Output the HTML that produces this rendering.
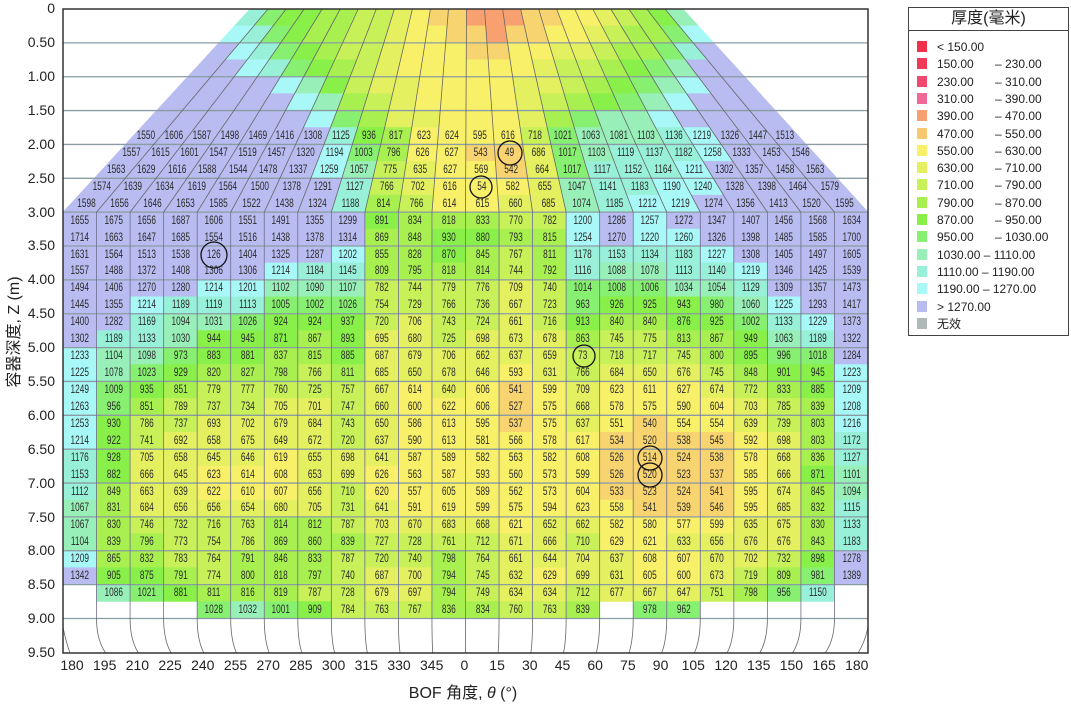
<!DOCTYPE html>
<html><head><meta charset="utf-8"><style>
body{margin:0;background:#fff;}
#c{position:relative;width:1071px;height:715px;overflow:hidden;background:#fff;font-family:"Liberation Sans","Noto Sans CJK SC",sans-serif;}
svg{position:absolute;left:0;top:0;}
.r{position:absolute;left:63px;width:805px;height:14px;line-height:14px;display:flex;font-size:11.5px;color:#2a2a2a;}
.r b{flex:1;text-align:center;font-weight:normal;transform:scaleX(.72);white-space:nowrap;}
.yl{position:absolute;left:0;width:55px;text-align:right;font-size:14px;color:#222;}
.xl{position:absolute;top:657px;width:30px;margin-left:-15px;text-align:center;font-size:14px;color:#222;}
#lg{position:absolute;left:908px;top:7px;width:159px;height:327px;border:1px solid #444;background:#fff;}
#lg .t{height:22px;border-bottom:1px solid #444;text-align:center;font-size:16px;line-height:22px;color:#222;}
#lg .i{position:absolute;left:8px;font-size:12px;height:14px;line-height:14px;color:#222;white-space:nowrap;}
#lg .i s{display:inline-block;width:10px;height:11px;vertical-align:-1px;margin-right:10px;text-decoration:none;}
#lg .i em{font-style:normal;position:absolute;left:78px;}
</style></head><body><div id="c">
<svg id="s" width="1071" height="715"></svg>

<div class="r" data-z="1.75" style="top:129px;left:132.4px;width:666.9px"><b>1550</b><b>1606</b><b>1587</b><b>1498</b><b>1469</b><b>1416</b><b>1308</b><b>1125</b><b>936</b><b>817</b><b>623</b><b>624</b><b>595</b><b>616</b><b>718</b><b>1021</b><b>1063</b><b>1081</b><b>1103</b><b>1136</b><b>1219</b><b>1326</b><b>1447</b><b>1513</b></div>
<div class="r" data-z="2" style="top:145.9px;left:116.8px;width:698px"><b>1557</b><b>1615</b><b>1601</b><b>1547</b><b>1519</b><b>1457</b><b>1320</b><b>1194</b><b>1003</b><b>796</b><b>626</b><b>627</b><b>543</b><b>49</b><b>686</b><b>1017</b><b>1103</b><b>1119</b><b>1137</b><b>1182</b><b>1258</b><b>1333</b><b>1453</b><b>1546</b></div>
<div class="r" data-z="2.25" style="top:162.8px;left:101.1px;width:729.2px"><b>1563</b><b>1629</b><b>1616</b><b>1588</b><b>1544</b><b>1478</b><b>1337</b><b>1259</b><b>1057</b><b>775</b><b>635</b><b>627</b><b>569</b><b>542</b><b>664</b><b>1017</b><b>1117</b><b>1152</b><b>1164</b><b>1211</b><b>1302</b><b>1357</b><b>1458</b><b>1563</b></div>
<div class="r" data-z="2.5" style="top:179.8px;left:85.5px;width:760.3px"><b>1574</b><b>1639</b><b>1634</b><b>1619</b><b>1564</b><b>1500</b><b>1378</b><b>1291</b><b>1127</b><b>766</b><b>702</b><b>616</b><b>54</b><b>582</b><b>655</b><b>1047</b><b>1141</b><b>1183</b><b>1190</b><b>1240</b><b>1328</b><b>1398</b><b>1464</b><b>1579</b></div>
<div class="r" data-z="2.75" style="top:196.7px;left:69.8px;width:791.6px"><b>1598</b><b>1656</b><b>1646</b><b>1653</b><b>1585</b><b>1522</b><b>1438</b><b>1324</b><b>1188</b><b>814</b><b>766</b><b>614</b><b>615</b><b>660</b><b>685</b><b>1074</b><b>1185</b><b>1212</b><b>1219</b><b>1274</b><b>1356</b><b>1413</b><b>1520</b><b>1595</b></div>

<div class="r" data-z="3" style="top:213.6px"><b>1655</b><b>1675</b><b>1656</b><b>1687</b><b>1606</b><b>1551</b><b>1491</b><b>1355</b><b>1299</b><b>891</b><b>834</b><b>818</b><b>833</b><b>770</b><b>782</b><b>1200</b><b>1286</b><b>1257</b><b>1272</b><b>1347</b><b>1407</b><b>1456</b><b>1568</b><b>1634</b></div>
<div class="r" data-z="3.25" style="top:230.5px"><b>1714</b><b>1663</b><b>1647</b><b>1685</b><b>1554</b><b>1516</b><b>1438</b><b>1378</b><b>1314</b><b>869</b><b>848</b><b>930</b><b>880</b><b>793</b><b>815</b><b>1254</b><b>1270</b><b>1220</b><b>1260</b><b>1326</b><b>1398</b><b>1485</b><b>1585</b><b>1700</b></div>
<div class="r" data-z="3.5" style="top:247.5px"><b>1631</b><b>1564</b><b>1513</b><b>1538</b><b>126</b><b>1404</b><b>1325</b><b>1287</b><b>1202</b><b>855</b><b>828</b><b>870</b><b>845</b><b>767</b><b>811</b><b>1178</b><b>1153</b><b>1134</b><b>1183</b><b>1227</b><b>1308</b><b>1405</b><b>1497</b><b>1605</b></div>
<div class="r" data-z="3.75" style="top:264.4px"><b>1557</b><b>1488</b><b>1372</b><b>1408</b><b>1306</b><b>1306</b><b>1214</b><b>1184</b><b>1145</b><b>809</b><b>795</b><b>818</b><b>814</b><b>744</b><b>792</b><b>1116</b><b>1088</b><b>1078</b><b>1113</b><b>1140</b><b>1219</b><b>1346</b><b>1425</b><b>1539</b></div>
<div class="r" data-z="4" style="top:281.3px"><b>1494</b><b>1406</b><b>1270</b><b>1280</b><b>1214</b><b>1201</b><b>1102</b><b>1090</b><b>1107</b><b>782</b><b>744</b><b>779</b><b>776</b><b>709</b><b>740</b><b>1014</b><b>1008</b><b>1006</b><b>1034</b><b>1054</b><b>1129</b><b>1309</b><b>1357</b><b>1473</b></div>
<div class="r" data-z="4.25" style="top:298.3px"><b>1445</b><b>1355</b><b>1214</b><b>1189</b><b>1119</b><b>1113</b><b>1005</b><b>1002</b><b>1026</b><b>754</b><b>729</b><b>766</b><b>736</b><b>667</b><b>723</b><b>963</b><b>926</b><b>925</b><b>943</b><b>980</b><b>1060</b><b>1225</b><b>1293</b><b>1417</b></div>
<div class="r" data-z="4.5" style="top:315.2px"><b>1400</b><b>1282</b><b>1169</b><b>1094</b><b>1031</b><b>1026</b><b>924</b><b>924</b><b>937</b><b>720</b><b>706</b><b>743</b><b>724</b><b>661</b><b>716</b><b>913</b><b>840</b><b>840</b><b>876</b><b>925</b><b>1002</b><b>1133</b><b>1229</b><b>1373</b></div>
<div class="r" data-z="4.75" style="top:332.1px"><b>1302</b><b>1189</b><b>1133</b><b>1030</b><b>944</b><b>945</b><b>871</b><b>867</b><b>893</b><b>695</b><b>680</b><b>725</b><b>698</b><b>673</b><b>678</b><b>863</b><b>745</b><b>775</b><b>813</b><b>867</b><b>949</b><b>1063</b><b>1189</b><b>1322</b></div>
<div class="r" data-z="5" style="top:349px"><b>1233</b><b>1104</b><b>1098</b><b>973</b><b>883</b><b>881</b><b>837</b><b>815</b><b>885</b><b>687</b><b>679</b><b>706</b><b>662</b><b>637</b><b>659</b><b>73</b><b>718</b><b>717</b><b>745</b><b>800</b><b>895</b><b>996</b><b>1018</b><b>1284</b></div>
<div class="r" data-z="5.25" style="top:366px"><b>1225</b><b>1078</b><b>1023</b><b>929</b><b>820</b><b>827</b><b>798</b><b>766</b><b>811</b><b>685</b><b>650</b><b>678</b><b>646</b><b>593</b><b>631</b><b>766</b><b>684</b><b>650</b><b>676</b><b>745</b><b>848</b><b>901</b><b>945</b><b>1223</b></div>
<div class="r" data-z="5.5" style="top:382.9px"><b>1249</b><b>1009</b><b>935</b><b>851</b><b>779</b><b>777</b><b>760</b><b>725</b><b>757</b><b>667</b><b>614</b><b>640</b><b>606</b><b>541</b><b>599</b><b>709</b><b>623</b><b>611</b><b>627</b><b>674</b><b>772</b><b>833</b><b>885</b><b>1209</b></div>
<div class="r" data-z="5.75" style="top:399.8px"><b>1263</b><b>956</b><b>851</b><b>789</b><b>737</b><b>734</b><b>705</b><b>701</b><b>747</b><b>660</b><b>600</b><b>622</b><b>606</b><b>527</b><b>575</b><b>668</b><b>578</b><b>575</b><b>590</b><b>604</b><b>703</b><b>785</b><b>839</b><b>1208</b></div>
<div class="r" data-z="6" style="top:416.8px"><b>1253</b><b>930</b><b>786</b><b>737</b><b>693</b><b>702</b><b>679</b><b>684</b><b>743</b><b>650</b><b>586</b><b>613</b><b>595</b><b>537</b><b>575</b><b>637</b><b>551</b><b>540</b><b>554</b><b>554</b><b>639</b><b>739</b><b>803</b><b>1216</b></div>
<div class="r" data-z="6.25" style="top:433.7px"><b>1214</b><b>922</b><b>741</b><b>692</b><b>658</b><b>675</b><b>649</b><b>672</b><b>720</b><b>637</b><b>590</b><b>613</b><b>581</b><b>566</b><b>578</b><b>617</b><b>534</b><b>520</b><b>538</b><b>545</b><b>592</b><b>698</b><b>803</b><b>1172</b></div>
<div class="r" data-z="6.5" style="top:450.6px"><b>1176</b><b>928</b><b>705</b><b>658</b><b>645</b><b>646</b><b>619</b><b>655</b><b>698</b><b>641</b><b>587</b><b>589</b><b>582</b><b>563</b><b>582</b><b>608</b><b>526</b><b>514</b><b>524</b><b>538</b><b>578</b><b>668</b><b>836</b><b>1127</b></div>
<div class="r" data-z="6.75" style="top:467.6px"><b>1153</b><b>882</b><b>666</b><b>645</b><b>623</b><b>614</b><b>608</b><b>653</b><b>699</b><b>626</b><b>563</b><b>587</b><b>593</b><b>560</b><b>573</b><b>599</b><b>526</b><b>520</b><b>523</b><b>537</b><b>585</b><b>666</b><b>871</b><b>1101</b></div>
<div class="r" data-z="7" style="top:484.5px"><b>1112</b><b>849</b><b>663</b><b>639</b><b>622</b><b>610</b><b>607</b><b>656</b><b>710</b><b>620</b><b>557</b><b>605</b><b>589</b><b>562</b><b>573</b><b>604</b><b>533</b><b>523</b><b>524</b><b>541</b><b>595</b><b>674</b><b>845</b><b>1094</b></div>
<div class="r" data-z="7.25" style="top:501.4px"><b>1067</b><b>831</b><b>684</b><b>656</b><b>656</b><b>654</b><b>680</b><b>705</b><b>731</b><b>641</b><b>591</b><b>619</b><b>599</b><b>575</b><b>594</b><b>623</b><b>558</b><b>541</b><b>539</b><b>546</b><b>595</b><b>685</b><b>832</b><b>1115</b></div>
<div class="r" data-z="7.5" style="top:518.3px"><b>1067</b><b>830</b><b>746</b><b>732</b><b>716</b><b>763</b><b>814</b><b>812</b><b>787</b><b>703</b><b>670</b><b>683</b><b>668</b><b>621</b><b>652</b><b>662</b><b>582</b><b>580</b><b>577</b><b>599</b><b>635</b><b>675</b><b>830</b><b>1133</b></div>
<div class="r" data-z="7.75" style="top:535.3px"><b>1104</b><b>839</b><b>796</b><b>773</b><b>754</b><b>786</b><b>869</b><b>860</b><b>839</b><b>727</b><b>728</b><b>761</b><b>712</b><b>671</b><b>666</b><b>710</b><b>629</b><b>621</b><b>633</b><b>656</b><b>676</b><b>676</b><b>843</b><b>1183</b></div>
<div class="r" data-z="8" style="top:552.2px"><b>1209</b><b>865</b><b>832</b><b>783</b><b>764</b><b>791</b><b>846</b><b>833</b><b>787</b><b>720</b><b>740</b><b>798</b><b>764</b><b>661</b><b>644</b><b>704</b><b>637</b><b>608</b><b>607</b><b>670</b><b>702</b><b>732</b><b>898</b><b>1278</b></div>
<div class="r" data-z="8.25" style="top:569.1px"><b>1342</b><b>905</b><b>875</b><b>791</b><b>774</b><b>800</b><b>818</b><b>797</b><b>740</b><b>687</b><b>700</b><b>794</b><b>745</b><b>632</b><b>629</b><b>699</b><b>631</b><b>605</b><b>600</b><b>673</b><b>719</b><b>809</b><b>981</b><b>1389</b></div>
<div class="r" data-z="8.5" style="top:586.1px"><b></b><b>1086</b><b>1021</b><b>881</b><b>811</b><b>816</b><b>819</b><b>787</b><b>728</b><b>679</b><b>697</b><b>794</b><b>749</b><b>634</b><b>634</b><b>712</b><b>677</b><b>667</b><b>647</b><b>751</b><b>798</b><b>956</b><b>1150</b><b></b></div>
<div class="r" data-z="8.75" style="top:603px"><b></b><b></b><b></b><b></b><b>1028</b><b>1032</b><b>1001</b><b>909</b><b>784</b><b>763</b><b>767</b><b>836</b><b>834</b><b>760</b><b>763</b><b>839</b><b></b><b>978</b><b>962</b><b></b><b></b><b></b><b></b><b></b></div>

<div class="yl" style="top:0px">0</div>
<div class="yl" style="top:34px">0.50</div>
<div class="yl" style="top:68px">1.00</div>
<div class="yl" style="top:102px">1.50</div>
<div class="yl" style="top:136px">2.00</div>
<div class="yl" style="top:170px">2.50</div>
<div class="yl" style="top:204px">3.00</div>
<div class="yl" style="top:237px">3.50</div>
<div class="yl" style="top:271px">4.00</div>
<div class="yl" style="top:305px">4.50</div>
<div class="yl" style="top:339px">5.00</div>
<div class="yl" style="top:373px">5.50</div>
<div class="yl" style="top:407px">6.00</div>
<div class="yl" style="top:441px">6.50</div>
<div class="yl" style="top:475px">7.00</div>
<div class="yl" style="top:509px">7.50</div>
<div class="yl" style="top:542px">8.00</div>
<div class="yl" style="top:576px">8.50</div>
<div class="yl" style="top:610px">9.00</div>
<div class="yl" style="top:644px">9.50</div>

<div class="xl" style="left:72px">180</div><div class="xl" style="left:104.7px">195</div><div class="xl" style="left:137.4px">210</div><div class="xl" style="left:170.1px">225</div><div class="xl" style="left:202.8px">240</div><div class="xl" style="left:235.5px">255</div><div class="xl" style="left:268.2px">270</div><div class="xl" style="left:300.9px">285</div><div class="xl" style="left:333.6px">300</div><div class="xl" style="left:366.3px">315</div><div class="xl" style="left:399px">330</div><div class="xl" style="left:431.7px">345</div><div class="xl" style="left:464.4px">0</div><div class="xl" style="left:497.1px">15</div><div class="xl" style="left:529.8px">30</div><div class="xl" style="left:562.5px">45</div><div class="xl" style="left:595.2px">60</div><div class="xl" style="left:627.9px">75</div><div class="xl" style="left:660.6px">90</div><div class="xl" style="left:693.3px">105</div><div class="xl" style="left:726px">120</div><div class="xl" style="left:758.7px">135</div><div class="xl" style="left:791.4px">150</div><div class="xl" style="left:824.1px">165</div><div class="xl" style="left:856.8px">180</div>

<div style="position:absolute;left:363px;width:200px;top:679px;text-align:center;font-size:16px;color:#222;">BOF 角度, <i>θ</i> (°)</div>
<div style="position:absolute;left:-88px;top:320px;width:200px;text-align:center;font-size:16px;color:#222;transform:rotate(-90deg);">容器深度, Z (m)</div>

<div id="lg"><div class="t">厚度(毫米)</div>
<div class="i" style="top:32px"><s style="background:#f03048"></s>&lt; 150.00</div>
<div class="i" style="top:49.3px"><s style="background:#f03858"></s>150.00<em>– 230.00</em></div>
<div class="i" style="top:66.6px"><s style="background:#f04870"></s>230.00<em>– 310.00</em></div>
<div class="i" style="top:83.9px"><s style="background:#f06898"></s>310.00<em>– 390.00</em></div>
<div class="i" style="top:101.2px"><s style="background:#f8a070"></s>390.00<em>– 470.00</em></div>
<div class="i" style="top:118.5px"><s style="background:#f8c870"></s>470.00<em>– 550.00</em></div>
<div class="i" style="top:135.8px"><s style="background:#f8f068"></s>550.00<em>– 630.00</em></div>
<div class="i" style="top:153.1px"><s style="background:#e4f060"></s>630.00<em>– 710.00</em></div>
<div class="i" style="top:170.4px"><s style="background:#c8f058"></s>710.00<em>– 790.00</em></div>
<div class="i" style="top:187.7px"><s style="background:#a8f050"></s>790.00<em>– 870.00</em></div>
<div class="i" style="top:205px"><s style="background:#88f048"></s>870.00<em>– 950.00</em></div>
<div class="i" style="top:222.3px"><s style="background:#88f070"></s>950.00<em>– 1030.00</em></div>
<div class="i" style="top:239.6px"><s style="background:#98f0b8"></s>1030.00 – 1110.00</div>
<div class="i" style="top:256.9px"><s style="background:#98f0d8"></s>1110.00 – 1190.00</div>
<div class="i" style="top:274.2px"><s style="background:#a8f8f8"></s>1190.00 – 1270.00</div>
<div class="i" style="top:291.5px"><s style="background:#b8bcf0"></s>&gt; 1270.00</div>
<div class="i" style="top:308.8px"><s style="background:#b0b8b8"></s>无效</div>
</div>
</div>
<script>
(function(){
var bins=[150,230,310,390,470,550,630,710,790,870,950,1030,1110,1190,1270];
var cols=["#f03048","#f03858","#f04870","#f06898","#f8a070","#f8d470","#f8f068","#e4f060","#c8f058","#a8f050","#88f048","#88f070","#98f0b8","#98f0d8","#a8f8f8","#b8bcf0"];
function col(v){for(var i=0;i<bins.length;i++)if(v<bins[i])return cols[i];return cols[15];}
function yz(z){return 9+67.72*z;}
var Y3=yz(3);
function L(y){return y>=Y3?63:250-187*(y-9)/(Y3-9);}
function R(y){return y>=Y3?868:683+185*(y-9)/(Y3-9);}
function xb(k,y){var l=L(y),r=R(y);return l+(r-l)*k/24;}
var s="";
function quad(k,z0,v){var y0=yz(z0),y1=yz(z0+0.25);
 s+='<polygon fill="'+col(v)+'" stroke="'+col(v)+'" stroke-width="0.6" points="'+xb(k,y0).toFixed(1)+','+y0.toFixed(1)+' '+xb(k+1,y0).toFixed(1)+','+y0.toFixed(1)+' '+xb(k+1,y1).toFixed(1)+','+y1.toFixed(1)+' '+xb(k,y1).toFixed(1)+','+y1.toFixed(1)+'"/>';}
var top=[
[1150,1000,900,880,850,800,760,720,680,620,520,480,450,400,420,480,520,560,600,680,760,820,900,1100],
[1250,1150,1000,900,860,800,760,720,660,600,560,520,480,460,480,520,560,600,660,740,800,860,1000,1200],
[1300,1250,1150,1000,900,840,780,720,660,600,580,560,540,520,560,600,640,700,760,800,860,950,1150,1300],
[1300,1300,1250,1150,1000,900,820,740,680,620,600,580,580,580,600,660,720,780,820,880,950,1100,1300,1350],
[1350,1350,1300,1300,1200,1050,900,780,700,640,610,600,600,600,640,700,780,820,880,950,1080,1250,1350,1400],
[1400,1400,1350,1300,1300,1200,1050,850,750,660,620,610,600,610,660,740,860,900,960,1100,1250,1300,1400,1450],
[1450,1450,1400,1350,1300,1300,1200,1000,850,700,630,615,600,620,680,800,1000,1050,1100,1200,1300,1350,1450,1500]];
for(var r=0;r<7;r++)for(var k=0;k<24;k++)quad(k,r*0.25,top[r][k]);
var rows=document.querySelectorAll('.r');
for(var i=0;i<rows.length;i++){var z=parseFloat(rows[i].getAttribute('data-z'));var b=rows[i].children;var prev=600;
 for(var k=0;k<b.length;k++){var v=parseInt(b[k].textContent,10);if(!isNaN(v)){if(v<300)v=(k==15&&z==5)?760:prev;quad(k,z,v);prev=v;}}}
for(var z=0.5;z<9.01;z+=0.5){var y=yz(z);s+='<line x1="63" x2="868" y1="'+y+'" y2="'+y+'" stroke="#8a9ba3" stroke-width="1.3"/>';}
for(var k=1;k<24;k++){s+='<line x1="'+xb(k,9)+'" y1="9" x2="'+xb(k,Y3)+'" y2="'+Y3+'" stroke="#666" stroke-width="0.8"/>';
 s+='<line x1="'+xb(k,Y3)+'" y1="'+Y3+'" x2="'+xb(k,Y3)+'" y2="'+yz(9)+'" stroke="#6e6e90" stroke-width="0.8"/>';
 var x=xb(k,Y3),x2=463+(x-463)*0.975;
 s+='<path d="M'+x+' '+yz(9)+' Q'+x+' 640 '+x2+' 653" fill="none" stroke="#666" stroke-width="0.8"/>';}
s+='<path d="M63 627 Q66 642 70 653" fill="none" stroke="#666" stroke-width="0.8"/><path d="M868 627 Q865 642 858 653" fill="none" stroke="#666" stroke-width="0.8"/>';
[[214,255,13],[510,153,12],[481,187,11],[584,356,11],[650,458,12],[650,475,12]].forEach(function(c){s+='<circle cx="'+c[0]+'" cy="'+c[1]+'" r="'+c[2]+'" fill="none" stroke="#111" stroke-width="1.3"/>';});
s+='<rect x="63" y="9" width="805" height="644" fill="none" stroke="#333" stroke-width="1.5"/>';
document.getElementById('s').innerHTML=s;
})();
</script>
</body></html>
